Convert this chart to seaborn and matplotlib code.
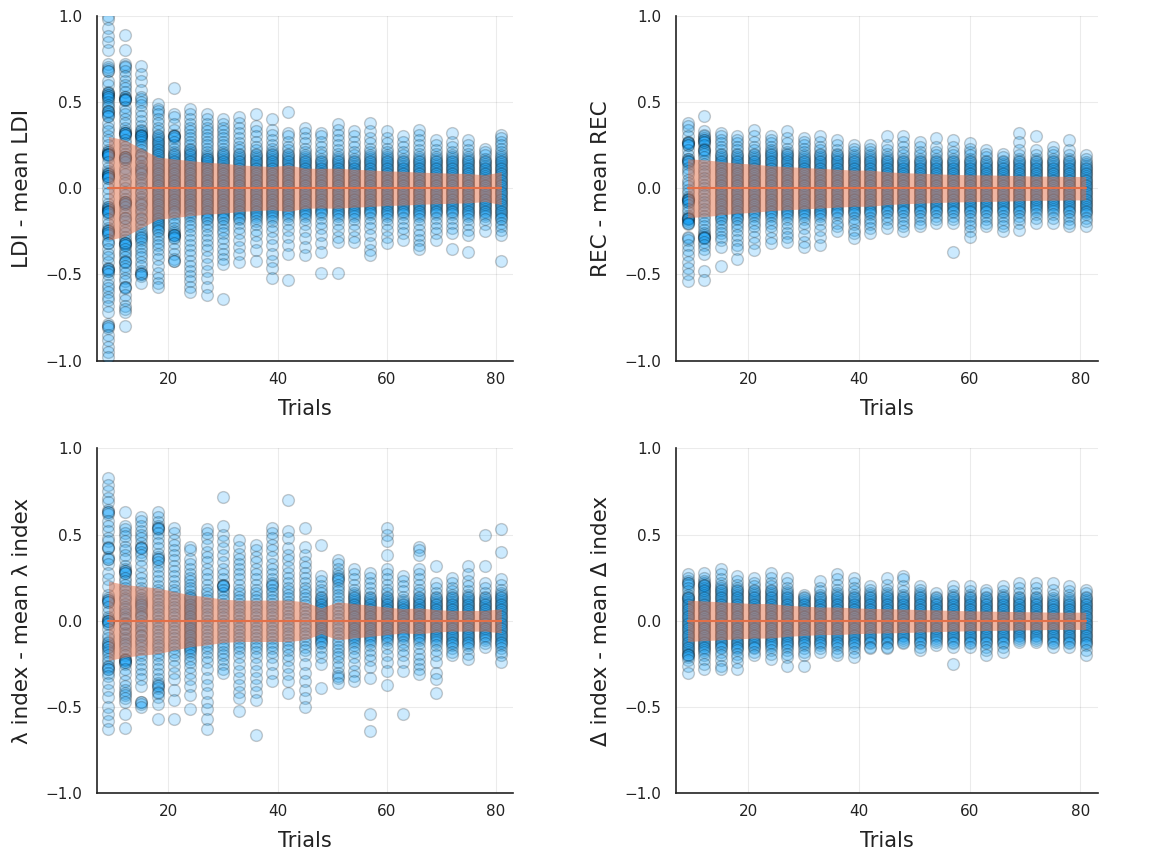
import numpy as np
import pandas as pd
import matplotlib
matplotlib.use("Agg")
import matplotlib.pyplot as plt
import seaborn as sns

# ---------------- data (values in hundredths) ----------------
trials = [9, 12, 15, 18, 21, 24, 27, 30, 33, 36, 39, 42, 45, 48, 51, 54, 57, 60, 63, 66, 69, 72, 75, 78, 81]

ldi_sd = [30, 28, 23, 18, 17, 16, 15, 14.5, 13.5, 13, 12.5, 13.5, 11.6, 11.5, 11.6, 11, 10.6, 10, 9.8, 9.3, 9, 8.7, 8.5, 7.7, 9.5]
rec_sd = [17, 16.5, 15.5, 14.5, 14, 13, 12.5, 12, 11.5, 11, 10.5, 10.5, 9.5, 9, 8.7, 8.3, 8, 7.8, 7.7, 7.5, 7.3, 7, 7, 6.8, 6.8]
lam_sd = [23, 21, 20, 19, 17, 15, 14, 12.5, 12, 12, 12, 12, 11, 7.5, 11, 10, 9, 8, 7, 7.5, 6.5, 6, 6, 6, 7]
del_sd = [12, 11.5, 11, 10.5, 10, 10, 9, 8.5, 8, 8, 7.5, 7.2, 7, 6.8, 6.5, 6.3, 6, 5.8, 5.6, 5.5, 5.3, 5.2, 5, 5, 5]

ldi_vals = [
    [100, 98, 93, 88, 85, 80, 72, 70, 69, 68, 68, 62, 60, 56, 55, 55, 54, 54, 53, 53, 52, 50, 48, 47, 45, 45, 44, 43, 42, 42, 38, 35, 33, 30, 28, 25, 22, 21, 21, 20, 20, 20, 19, 19, 18, 15, 12, 10, 9, 8, 8, 7, 7, 7, 6, 6, 3, 0, -3, -6, -9, -11, -11, -12, -12, -13, -13, -14, -14, -15, -18, -21, -23, -24, -25, -25, -26, -26, -27, -30, -32, -32, -35, -38, -40, -43, -46, -47, -47, -48, -48, -50, -53, -56, -58, -60, -63, -65, -68, -72, -79, -80, -80, -81, -85, -88, -92, -95, -98],
    [89, 80, 72, 71, 70, 68, 65, 62, 60, 58, 56, 53, 53, 52, 52, 51, 51, 47, 45, 43, 40, 38, 35, 33, 32, 32, 32, 31, 31, 28, 26, 24, 22, 20, 18, 18, 18, 17, 17, 15, 12, 10, 8, 5, 3, 0, -2, -4, -6, -8, -8, -8, -9, -9, -11, -13, -15, -17, -17, -19, -22, -24, -26, -28, -30, -32, -32, -32, -33, -33, -35, -37, -38, -40, -42, -43, -43, -45, -47, -49, -52, -54, -57, -57, -58, -62, -65, -68, -70, -72, -80],
    [71, 66, 62, 57, 53, 52, 50, 48, 45, 42, 39, 36, 34, 33, 32, 31, 31, 30, 30, 29, 28, 27, 25, 24, 22, 20, 19, 18, 16, 15, 13, 12, 11, 10, 9, 8, 6, 5, 3, 2, 0, -2, -3, -5, -6, -8, -9, -10, -12, -13, -15, -17, -18, -20, -22, -24, -26, -27, -28, -29, -30, -32, -34, -36, -38, -40, -43, -45, -48, -49, -50, -50, -51, -55],
    [49, 46, 45, 43, 40, 38, 35, 33, 31, 30, 29, 28, 27, 26, 25, 24, 23, 22, 21, 20, 19, 18, 17, 16, 15, 14, 13, 12, 11, 10, 9, 8, 7, 6, 5, 4, 3, 2, 1, 0, -1, -2, -3, -4, -5, -6, -7, -8, -9, -10, -11, -12, -13, -14, -15, -16, -17, -18, -19, -20, -21, -22, -23, -24, -25, -27, -29, -31, -33, -35, -38, -41, -45, -49, -52, -55, -57],
    [58, 43, 41, 37, 34, 31, 30, 30, 30, 29, 27, 25, 23, 21, 20, 19, 18, 17, 16, 15, 14, 13, 12, 11, 10, 9, 8, 7, 6, 5, 4, 3, 2, 1, 0, -1, -2, -3, -4, -5, -6, -7, -8, -9, -10, -11, -12, -13, -14, -15, -17, -19, -21, -23, -25, -26, -27, -27, -27, -28, -29, -32, -35, -38, -41, -42, -42],
    [46, 43, 40, 37, 35, 33, 31, 29, 27, 25, 23, 22, 21, 20, 19, 18, 17, 16, 15, 14, 13, 12, 11, 10, 9, 8, 7, 6, 5, 4, 3, 2, 1, 0, -1, -2, -3, -4, -5, -6, -7, -8, -9, -10, -11, -12, -13, -14, -15, -16, -18, -20, -22, -24, -27, -30, -33, -36, -39, -42, -45, -48, -51, -54, -57, -60],
    [43, 40, 37, 35, 33, 31, 29, 27, 25, 23, 21, 19, 18, 17, 17, 16, 15, 14, 13, 12, 11, 10, 9, 8, 7, 6, 5, 4, 3, 2, 1, 0, -1, -2, -3, -4, -5, -6, -7, -8, -9, -10, -11, -12, -13, -14, -15, -16, -17, -18, -20, -22, -24, -27, -30, -33, -36, -40, -44, -48, -52, -57, -62],
    [40, 37, 35, 33, 31, 29, 27, 25, 23, 21, 20, 19, 18, 17, 16, 15, 14, 13, 12, 11, 10, 9, 8, 7, 6, 5, 4, 3, 2, 1, 0, -1, -2, -3, -4, -5, -6, -7, -8, -9, -10, -11, -12, -13, -14, -15, -16, -17, -18, -20, -22, -24, -26, -29, -32, -35, -38, -41, -44, -64],
    [41, 38, 35, 32, 29, 26, 24, 22, 20, 19, 18, 17, 16, 15, 14, 13, 12, 11, 10, 9, 8, 7, 6, 5, 4, 3, 2, 1, 0, -1, -2, -3, -4, -5, -6, -7, -8, -9, -10, -11, -12, -13, -14, -15, -16, -17, -18, -20, -23, -26, -30, -34, -38, -43],
    [43, 36, 33, 30, 27, 24, 22, 20, 19, 18, 17, 16, 15, 14, 13, 12, 11, 10, 9, 8, 7, 6, 5, 4, 3, 2, 1, 0, -1, -2, -3, -4, -5, -6, -7, -8, -9, -10, -11, -12, -13, -14, -15, -16, -17, -19, -21, -24, -27, -31, -36, -42],
    [40, 34, 31, 28, 25, 23, 21, 20, 19, 18, 17, 16, 15, 14, 13, 12, 11, 10, 9, 8, 7, 6, 5, 4, 3, 2, 1, 0, -1, -2, -3, -4, -5, -6, -7, -8, -9, -10, -11, -12, -13, -14, -15, -16, -17, -19, -22, -25, -29, -33, -38, -42, -46, -52],
    [44, 32, 30, 27, 24, 22, 20, 19, 18, 17, 16, 15, 14, 13, 12, 11, 10, 9, 8, 7, 6, 5, 4, 3, 2, 1, 0, -1, -2, -3, -4, -5, -6, -7, -8, -9, -10, -11, -12, -13, -14, -15, -16, -18, -21, -24, -28, -33, -38, -53],
    [35, 32, 29, 26, 23, 21, 19, 18, 17, 16, 15, 14, 13, 12, 11, 10, 9, 8, 7, 6, 5, 4, 3, 2, 1, 0, -1, -2, -3, -4, -5, -6, -7, -8, -9, -10, -11, -12, -13, -14, -15, -16, -18, -21, -25, -29, -34, -39],
    [32, 30, 27, 24, 21, 19, 17, 16, 15, 14, 13, 12, 11, 10, 9, 8, 7, 6, 5, 4, 3, 2, 1, 0, -1, -2, -3, -4, -5, -6, -7, -8, -9, -10, -11, -12, -13, -14, -15, -17, -20, -23, -27, -32, -37, -49],
    [37, 34, 31, 28, 25, 22, 20, 18, 17, 16, 15, 14, 13, 12, 11, 10, 9, 8, 7, 6, 5, 4, 3, 2, 1, 0, -1, -2, -3, -4, -5, -6, -7, -8, -9, -10, -11, -12, -13, -14, -15, -16, -18, -21, -24, -28, -31, -49],
    [33, 30, 27, 24, 21, 19, 17, 16, 15, 14, 13, 12, 11, 10, 9, 8, 7, 6, 5, 4, 3, 2, 1, 0, -1, -2, -3, -4, -5, -6, -7, -8, -9, -10, -11, -12, -13, -14, -15, -16, -18, -21, -24, -28, -31],
    [38, 33, 29, 26, 23, 21, 19, 18, 17, 16, 15, 14, 13, 12, 11, 10, 9, 8, 7, 6, 5, 4, 3, 2, 1, 0, -1, -2, -3, -4, -5, -6, -7, -8, -9, -10, -11, -12, -13, -14, -15, -17, -20, -23, -27, -32, -36, -39],
    [33, 29, 26, 23, 21, 19, 18, 17, 16, 15, 14, 13, 12, 11, 10, 9, 8, 7, 6, 5, 4, 3, 2, 1, 0, -1, -2, -3, -4, -5, -6, -7, -8, -9, -10, -11, -12, -13, -14, -15, -16, -18, -21, -24, -28, -32],
    [30, 27, 24, 21, 19, 17, 16, 15, 14, 13, 12, 11, 10, 9, 8, 7, 6, 5, 4, 3, 2, 1, 0, -1, -2, -3, -4, -5, -6, -7, -8, -9, -10, -11, -12, -13, -14, -15, -17, -20, -23, -26, -30],
    [34, 31, 28, 25, 22, 20, 18, 17, 16, 15, 14, 13, 12, 11, 10, 9, 8, 7, 6, 5, 4, 3, 2, 1, 0, -1, -2, -3, -4, -5, -6, -7, -8, -9, -10, -11, -12, -13, -14, -15, -16, -18, -21, -24, -27, -30, -33, -35],
    [28, 25, 22, 20, 18, 17, 16, 15, 14, 13, 12, 11, 10, 9, 8, 7, 6, 5, 4, 3, 2, 1, 0, -1, -2, -3, -4, -5, -6, -7, -8, -9, -10, -11, -12, -13, -14, -15, -17, -20, -23, -26, -30],
    [32, 27, 24, 21, 19, 18, 17, 16, 15, 14, 13, 12, 11, 10, 9, 8, 7, 6, 5, 4, 3, 2, 1, 0, -1, -2, -3, -4, -5, -6, -7, -8, -9, -10, -11, -12, -13, -14, -15, -17, -20, -23, -26, -35],
    [28, 25, 22, 20, 18, 17, 16, 15, 14, 13, 12, 11, 10, 9, 8, 7, 6, 5, 4, 3, 2, 1, 0, -1, -2, -3, -4, -5, -6, -7, -8, -9, -10, -11, -12, -13, -14, -15, -16, -18, -21, -24, -27, -37],
    [23, 21, 19, 17, 16, 15, 14, 13, 12, 11, 10, 9, 8, 7, 6, 5, 4, 3, 2, 1, 0, -1, -2, -3, -4, -5, -6, -7, -8, -9, -10, -11, -12, -13, -14, -15, -16, -18, -21, -25],
    [31, 29, 27, 25, 23, 21, 19, 18, 17, 16, 15, 14, 13, 12, 11, 10, 9, 8, 7, 6, 5, 4, 3, 2, 1, 0, -1, -2, -3, -4, -5, -6, -7, -8, -9, -10, -11, -12, -13, -14, -15, -16, -17, -18, -20, -22, -24, -27, -42],
]

rec_vals = [
    [38, 36, 34, 30, 27, 27, 26, 26, 25, 25, 22, 19, 17, 17, 16, 16, 15, 14, 12, 10, 8, 5, 3, 1, -1, -3, -5, -6, -6, -7, -7, -8, -8, -10, -12, -14, -16, -17, -17, -18, -18, -19, -20, -20, -21, -28, -29, -30, -33, -36, -39, -43, -46, -50, -54],
    [42, 33, 31, 30, 29, 28, 28, 27, 27, 25, 23, 22, 22, 21, 20, 18, 16, 14, 12, 10, 8, 6, 4, 2, 0, -2, -4, -6, -8, -10, -12, -14, -16, -18, -20, -22, -24, -26, -27, -28, -28, -29, -29, -31, -33, -35, -38, -48, -53],
    [32, 30, 28, 26, 24, 22, 20, 19, 18, 17, 16, 15, 14, 13, 12, 11, 10, 9, 8, 7, 6, 5, 4, 3, 2, 1, 0, -1, -2, -3, -4, -5, -6, -7, -8, -9, -10, -11, -12, -13, -14, -15, -16, -17, -18, -20, -22, -24, -26, -28, -30, -34, -45],
    [30, 28, 26, 24, 22, 20, 19, 18, 17, 16, 15, 14, 13, 12, 11, 10, 9, 8, 7, 6, 5, 4, 3, 2, 1, 0, -1, -2, -3, -4, -5, -6, -7, -8, -9, -10, -11, -12, -13, -14, -15, -16, -17, -18, -20, -22, -24, -27, -30, -33, -35, -41],
    [34, 30, 27, 24, 22, 20, 19, 18, 17, 16, 15, 14, 13, 12, 11, 10, 9, 8, 7, 6, 5, 4, 3, 2, 1, 0, -1, -2, -3, -4, -5, -6, -7, -8, -9, -10, -11, -12, -13, -14, -15, -16, -18, -20, -22, -25, -28, -32, -36],
    [30, 28, 26, 24, 22, 21, 20, 19, 18, 17, 16, 15, 14, 13, 12, 11, 10, 9, 8, 7, 6, 5, 4, 3, 2, 1, 0, -1, -2, -3, -4, -5, -6, -7, -8, -9, -10, -11, -12, -13, -14, -15, -16, -18, -20, -22, -25, -29, -32],
    [33, 29, 26, 23, 21, 20, 19, 18, 17, 16, 15, 14, 13, 12, 11, 10, 9, 8, 7, 6, 5, 4, 3, 2, 1, 0, -1, -2, -3, -4, -5, -6, -7, -8, -9, -10, -11, -12, -13, -14, -15, -16, -18, -20, -23, -26, -28, -31],
    [29, 27, 25, 23, 21, 19, 18, 17, 16, 15, 14, 13, 12, 11, 10, 9, 8, 7, 6, 5, 4, 3, 2, 1, 0, -1, -2, -3, -4, -5, -6, -7, -8, -9, -10, -11, -12, -13, -14, -15, -16, -18, -20, -23, -27, -31, -34],
    [30, 27, 24, 22, 20, 19, 18, 17, 16, 15, 14, 13, 12, 11, 10, 9, 8, 7, 6, 5, 4, 3, 2, 1, 0, -1, -2, -3, -4, -5, -6, -7, -8, -9, -10, -11, -12, -13, -14, -15, -16, -18, -21, -24, -28, -33],
    [28, 25, 22, 20, 19, 18, 17, 16, 15, 14, 13, 12, 11, 10, 9, 8, 7, 6, 5, 4, 3, 2, 1, 0, -1, -2, -3, -4, -5, -6, -7, -8, -9, -10, -11, -12, -13, -14, -15, -17, -20, -22, -25],
    [25, 23, 21, 19, 18, 17, 16, 15, 14, 13, 12, 11, 10, 9, 8, 7, 6, 5, 4, 3, 2, 1, 0, -1, -2, -3, -4, -5, -6, -7, -8, -9, -10, -11, -12, -13, -14, -15, -17, -19, -21, -24, -26, -29],
    [25, 23, 21, 19, 18, 17, 16, 15, 14, 13, 12, 11, 10, 9, 8, 7, 6, 5, 4, 3, 2, 1, 0, -1, -2, -3, -4, -5, -6, -7, -8, -9, -10, -11, -12, -13, -14, -15, -17, -19, -21, -23, -26],
    [30, 25, 22, 20, 18, 17, 16, 15, 14, 13, 12, 11, 10, 9, 8, 7, 6, 5, 4, 3, 2, 1, 0, -1, -2, -3, -4, -5, -6, -7, -8, -9, -10, -11, -12, -13, -14, -16, -18, -20, -23],
    [30, 27, 24, 21, 19, 17, 16, 15, 14, 13, 12, 11, 10, 9, 8, 7, 6, 5, 4, 3, 2, 1, 0, -1, -2, -3, -4, -5, -6, -7, -8, -9, -10, -11, -12, -13, -14, -16, -18, -20, -22, -25],
    [27, 24, 21, 19, 17, 16, 15, 14, 13, 12, 11, 10, 9, 8, 7, 6, 5, 4, 3, 2, 1, 0, -1, -2, -3, -4, -5, -6, -7, -8, -9, -10, -11, -12, -13, -14, -16, -18, -20, -22],
    [29, 24, 21, 19, 17, 16, 15, 14, 13, 12, 11, 10, 9, 8, 7, 6, 5, 4, 3, 2, 1, 0, -1, -2, -3, -4, -5, -6, -7, -8, -9, -10, -11, -12, -13, -14, -16, -18, -20],
    [28, 24, 21, 19, 17, 16, 15, 14, 13, 12, 11, 10, 9, 8, 7, 6, 5, 4, 3, 2, 1, 0, -1, -2, -3, -4, -5, -6, -7, -8, -9, -10, -11, -12, -13, -14, -16, -18, -20, -37],
    [26, 23, 21, 19, 17, 16, 15, 14, 13, 12, 11, 10, 9, 8, 7, 6, 5, 4, 3, 2, 1, 0, -1, -2, -3, -4, -5, -6, -7, -8, -9, -10, -11, -12, -13, -14, -16, -18, -20, -22, -25, -28],
    [22, 20, 18, 16, 15, 14, 13, 12, 11, 10, 9, 8, 7, 6, 5, 4, 3, 2, 1, 0, -1, -2, -3, -4, -5, -6, -7, -8, -9, -10, -11, -12, -13, -14, -16, -18, -20, -22],
    [20, 18, 16, 15, 14, 13, 12, 11, 10, 9, 8, 7, 6, 5, 4, 3, 2, 1, 0, -1, -2, -3, -4, -5, -6, -7, -8, -9, -10, -11, -12, -13, -14, -16, -18, -20, -22, -25],
    [32, 27, 22, 19, 17, 16, 15, 14, 13, 12, 11, 10, 9, 8, 7, 6, 5, 4, 3, 2, 1, 0, -1, -2, -3, -4, -5, -6, -7, -8, -9, -10, -11, -12, -13, -14, -16, -18, -20, -24],
    [30, 22, 19, 17, 16, 15, 14, 13, 12, 11, 10, 9, 8, 7, 6, 5, 4, 3, 2, 1, 0, -1, -2, -3, -4, -5, -6, -7, -8, -9, -10, -11, -12, -13, -15, -17, -20],
    [24, 21, 19, 17, 16, 15, 14, 13, 12, 11, 10, 9, 8, 7, 6, 5, 4, 3, 2, 1, 0, -1, -2, -3, -4, -5, -6, -7, -8, -9, -10, -11, -12, -13, -15, -17, -20],
    [28, 22, 19, 17, 16, 15, 14, 13, 12, 11, 10, 9, 8, 7, 6, 5, 4, 3, 2, 1, 0, -1, -2, -3, -4, -5, -6, -7, -8, -9, -10, -11, -12, -13, -14, -16, -18, -20, -22],
    [19, 17, 15, 14, 13, 12, 11, 10, 9, 8, 7, 6, 5, 4, 3, 2, 1, 0, -1, -2, -3, -4, -5, -6, -7, -8, -9, -10, -11, -12, -13, -14, -15, -17, -19, -22],
]

lam_vals = [
    [83, 79, 75, 71, 69, 64, 63, 63, 62, 58, 55, 52, 48, 46, 43, 42, 42, 37, 36, 36, 33, 28, 24, 20, 15, 13, 12, 12, 11, 11, 8, 5, 2, 1, 0, 0, 0, -1, -2, -5, -8, -10, -12, -13, -14, -15, -15, -17, -18, -20, -22, -24, -26, -27, -28, -28, -30, -32, -36, -40, -44, -50, -54, -58, -63],
    [63, 55, 53, 51, 49, 46, 43, 41, 38, 36, 32, 30, 29, 29, 28, 28, 25, 23, 21, 19, 17, 15, 13, 12, 10, 8, 7, 5, 4, 2, 1, -1, -2, -4, -5, -7, -8, -10, -11, -13, -14, -16, -18, -20, -22, -23, -23, -24, -24, -25, -28, -31, -35, -38, -40, -42, -43, -45, -47, -54, -62],
    [60, 58, 55, 52, 50, 48, 45, 43, 42, 42, 40, 38, 35, 32, 28, 25, 22, 19, 17, 15, 13, 12, 11, 10, 9, 8, 7, 5, 4, 3, 2, 0, -2, -3, -5, -6, -8, -9, -11, -12, -14, -16, -18, -20, -22, -25, -28, -31, -34, -38, -47, -47, -48, -50],
    [63, 60, 57, 55, 54, 54, 53, 51, 48, 45, 42, 39, 37, 36, 36, 34, 32, 29, 26, 23, 20, 18, 16, 14, 12, 10, 8, 6, 4, 2, 0, -2, -4, -6, -8, -10, -12, -14, -16, -18, -20, -22, -25, -28, -31, -34, -36, -37, -38, -39, -41, -42, -44, -48, -57],
    [54, 51, 47, 44, 41, 38, 35, 32, 29, 26, 23, 20, 18, 16, 14, 12, 10, 8, 6, 4, 2, 0, -2, -4, -6, -8, -10, -12, -14, -16, -18, -20, -23, -26, -30, -34, -40, -46, -57],
    [43, 41, 36, 33, 30, 27, 25, 23, 21, 19, 17, 15, 14, 13, 12, 11, 10, 9, 8, 7, 6, 5, 4, 3, 2, 1, 0, -1, -2, -3, -4, -5, -6, -7, -8, -9, -10, -11, -12, -13, -14, -15, -16, -17, -18, -20, -22, -24, -27, -30, -34, -38, -43, -51],
    [53, 51, 48, 44, 40, 37, 34, 30, 27, 24, 21, 18, 16, 14, 12, 10, 8, 6, 4, 2, 0, -2, -4, -6, -8, -10, -12, -14, -16, -18, -21, -24, -28, -33, -37, -42, -47, -51, -57, -63],
    [72, 55, 50, 46, 42, 38, 34, 30, 27, 24, 21, 21, 20, 20, 18, 16, 14, 12, 10, 8, 6, 4, 2, 0, -2, -4, -6, -8, -10, -12, -14, -16, -18, -20, -22, -25, -28, -30],
    [47, 43, 39, 36, 33, 30, 27, 24, 21, 18, 16, 14, 12, 10, 8, 6, 4, 2, 0, -2, -4, -6, -8, -10, -12, -14, -16, -18, -21, -25, -29, -33, -37, -41, -45, -52],
    [44, 41, 37, 34, 30, 27, 24, 21, 18, 16, 14, 12, 10, 8, 6, 4, 2, 0, -2, -4, -6, -8, -10, -12, -14, -16, -18, -21, -25, -29, -33, -37, -41, -46, -66],
    [54, 51, 48, 44, 41, 37, 33, 30, 27, 24, 22, 21, 20, 18, 16, 14, 12, 10, 8, 6, 4, 2, 0, -2, -4, -6, -8, -10, -12, -14, -16, -18, -21, -25, -30, -35],
    [70, 52, 48, 42, 38, 35, 31, 28, 25, 22, 19, 17, 15, 13, 11, 9, 7, 5, 3, 1, -1, -3, -5, -7, -9, -11, -13, -15, -17, -20, -23, -27, -31, -35, -42],
    [54, 43, 38, 34, 31, 28, 25, 22, 19, 17, 15, 13, 11, 9, 7, 5, 3, 1, -1, -3, -5, -7, -9, -11, -13, -15, -17, -20, -25, -30, -35, -40, -45, -50],
    [44, 26, 23, 20, 18, 16, 14, 13, 12, 11, 10, 9, 8, 7, 6, 5, 4, 3, 2, 1, 0, -1, -2, -3, -4, -5, -6, -7, -8, -9, -10, -11, -12, -13, -15, -18, -21, -25, -39],
    [35, 33, 30, 28, 26, 25, 24, 23, 21, 19, 17, 15, 13, 11, 9, 7, 5, 3, 1, -1, -3, -5, -7, -9, -11, -13, -15, -17, -19, -21, -24, -27, -30, -32, -33, -36],
    [30, 27, 24, 21, 18, 16, 15, 14, 13, 12, 11, 10, 9, 8, 7, 6, 5, 4, 3, 2, 1, 0, -1, -2, -3, -4, -5, -6, -7, -8, -9, -10, -11, -12, -14, -16, -18, -21, -25, -29, -32, -35],
    [28, 25, 22, 19, 16, 14, 13, 12, 11, 10, 9, 8, 7, 6, 5, 4, 3, 2, 1, 0, -1, -2, -3, -4, -5, -6, -7, -8, -9, -10, -11, -12, -14, -17, -20, -23, -27, -33, -54, -64],
    [54, 50, 46, 38, 30, 27, 24, 21, 18, 16, 14, 13, 12, 11, 10, 9, 8, 7, 6, 5, 4, 3, 2, 1, 0, -1, -2, -3, -4, -5, -6, -7, -8, -9, -10, -11, -13, -16, -20, -24, -29, -37],
    [26, 23, 20, 17, 14, 12, 11, 10, 9, 8, 7, 6, 5, 4, 3, 2, 1, 0, -1, -2, -3, -4, -5, -6, -7, -8, -9, -10, -12, -14, -17, -20, -24, -29, -54],
    [43, 41, 38, 30, 27, 24, 21, 18, 16, 14, 13, 12, 11, 10, 9, 8, 7, 6, 5, 4, 3, 2, 1, 0, -1, -2, -3, -4, -5, -6, -7, -8, -9, -10, -11, -13, -16, -19, -22, -25, -28, -31],
    [32, 22, 19, 16, 14, 13, 12, 11, 10, 9, 8, 7, 6, 5, 4, 3, 2, 1, 0, -1, -2, -3, -4, -5, -6, -7, -8, -9, -10, -11, -12, -14, -17, -20, -24, -30, -34, -42],
    [25, 22, 19, 17, 15, 14, 13, 12, 11, 10, 9, 8, 7, 6, 5, 4, 3, 2, 1, 0, -1, -2, -3, -4, -5, -6, -7, -8, -9, -10, -11, -12, -13, -14, -16, -18, -20],
    [32, 27, 23, 20, 17, 15, 14, 13, 12, 11, 10, 9, 8, 7, 6, 5, 4, 3, 2, 1, 0, -1, -2, -3, -4, -5, -6, -7, -8, -9, -10, -11, -12, -13, -14, -16, -19, -22],
    [50, 32, 22, 19, 16, 14, 13, 12, 11, 10, 9, 8, 7, 6, 5, 4, 3, 2, 1, 0, -1, -2, -3, -4, -5, -6, -7, -8, -9, -10, -11, -13, -15],
    [53, 40, 24, 21, 18, 16, 15, 14, 13, 12, 11, 10, 9, 8, 7, 6, 5, 4, 3, 2, 1, 0, -1, -2, -3, -4, -5, -6, -7, -8, -9, -10, -11, -12, -13, -14, -16, -18, -20, -24],
]

del_vals = [
    [27, 25, 23, 22, 22, 21, 19, 17, 15, 14, 13, 13, 12, 11, 10, 9, 8, 7, 6, 5, 4, 3, 2, 1, 0, -1, -2, -3, -4, -5, -6, -7, -8, -9, -10, -11, -12, -13, -14, -15, -16, -17, -18, -19, -20, -20, -21, -23, -26, -30],
    [28, 25, 23, 22, 21, 21, 20, 19, 18, 17, 16, 15, 14, 13, 12, 11, 10, 9, 8, 7, 6, 5, 4, 3, 2, 1, 0, -1, -2, -3, -4, -5, -6, -7, -8, -9, -10, -11, -12, -13, -14, -15, -16, -17, -18, -20, -22, -25, -28],
    [30, 27, 24, 22, 20, 19, 18, 17, 16, 15, 14, 13, 12, 11, 10, 9, 8, 7, 6, 5, 4, 3, 2, 1, 0, -1, -2, -3, -4, -5, -6, -7, -8, -9, -10, -11, -12, -13, -14, -15, -16, -18, -20, -23, -26, -28],
    [26, 23, 21, 19, 18, 17, 16, 15, 14, 13, 12, 11, 10, 9, 8, 7, 6, 5, 4, 3, 2, 1, 0, -1, -2, -3, -4, -5, -6, -7, -8, -9, -10, -11, -12, -13, -14, -15, -16, -17, -19, -21, -24, -28],
    [25, 22, 20, 18, 17, 16, 15, 14, 13, 12, 11, 10, 9, 8, 7, 6, 5, 4, 3, 2, 1, 0, -1, -2, -3, -4, -5, -6, -7, -8, -9, -10, -11, -12, -13, -14, -15, -16, -18, -20],
    [28, 25, 22, 20, 18, 17, 16, 15, 14, 13, 12, 11, 10, 9, 8, 7, 6, 5, 4, 3, 2, 1, 0, -1, -2, -3, -4, -5, -6, -7, -8, -9, -10, -11, -12, -13, -14, -15, -17, -19, -22],
    [25, 22, 19, 17, 16, 15, 14, 13, 12, 11, 10, 9, 8, 7, 6, 5, 4, 3, 2, 1, 0, -1, -2, -3, -4, -5, -6, -7, -8, -9, -10, -11, -12, -13, -14, -15, -17, -19, -21, -26],
    [15, 14, 13, 12, 11, 10, 9, 8, 7, 6, 5, 4, 3, 2, 1, 0, -1, -2, -3, -4, -5, -6, -7, -8, -9, -10, -11, -12, -13, -14, -16, -18, -20, -26],
    [23, 19, 17, 15, 14, 13, 12, 11, 10, 9, 8, 7, 6, 5, 4, 3, 2, 1, 0, -1, -2, -3, -4, -5, -6, -7, -8, -9, -10, -11, -12, -13, -14, -16, -18],
    [27, 24, 21, 18, 16, 15, 14, 13, 12, 11, 10, 9, 8, 7, 6, 5, 4, 3, 2, 1, 0, -1, -2, -3, -4, -5, -6, -7, -8, -9, -10, -11, -12, -13, -14, -16, -18, -20],
    [25, 22, 19, 17, 15, 14, 13, 12, 11, 10, 9, 8, 7, 6, 5, 4, 3, 2, 1, 0, -1, -2, -3, -4, -5, -6, -7, -8, -9, -10, -11, -12, -13, -14, -16, -18, -21],
    [20, 18, 16, 15, 14, 13, 12, 11, 10, 9, 8, 7, 6, 5, 4, 3, 2, 1, 0, -1, -2, -3, -4, -5, -6, -7, -8, -9, -10, -11, -12, -13, -15, -16],
    [25, 21, 18, 16, 15, 14, 13, 12, 11, 10, 9, 8, 7, 6, 5, 4, 3, 2, 1, 0, -1, -2, -3, -4, -5, -6, -7, -8, -9, -10, -11, -12, -13, -15, -16],
    [26, 24, 20, 17, 15, 14, 13, 12, 11, 10, 9, 8, 7, 6, 5, 4, 3, 2, 1, 0, -1, -2, -3, -4, -5, -6, -7, -8, -9, -10, -11, -12, -13],
    [20, 18, 16, 15, 14, 13, 12, 11, 10, 9, 8, 7, 6, 5, 4, 3, 2, 1, 0, -1, -2, -3, -4, -5, -6, -7, -8, -9, -10, -11, -12, -13, -15, -17],
    [16, 14, 13, 12, 11, 10, 9, 8, 7, 6, 5, 4, 3, 2, 1, 0, -1, -2, -3, -4, -5, -6, -7, -8, -9, -10, -11, -12, -14],
    [20, 17, 15, 14, 13, 12, 11, 10, 9, 8, 7, 6, 5, 4, 3, 2, 1, 0, -1, -2, -3, -4, -5, -6, -7, -8, -9, -10, -11, -12, -13, -15, -25],
    [20, 17, 15, 14, 13, 12, 11, 10, 9, 8, 7, 6, 5, 4, 3, 2, 1, 0, -1, -2, -3, -4, -5, -6, -7, -8, -9, -10, -11, -12, -13, -15],
    [18, 16, 14, 13, 12, 11, 10, 9, 8, 7, 6, 5, 4, 3, 2, 1, 0, -1, -2, -3, -4, -5, -6, -7, -8, -9, -10, -11, -12, -13, -15, -17, -20],
    [20, 17, 15, 14, 13, 12, 11, 10, 9, 8, 7, 6, 5, 4, 3, 2, 1, 0, -1, -2, -3, -4, -5, -6, -7, -8, -9, -10, -11, -12, -13, -15, -18],
    [22, 19, 16, 14, 13, 12, 11, 10, 9, 8, 7, 6, 5, 4, 3, 2, 1, 0, -1, -2, -3, -4, -5, -6, -7, -8, -9, -10, -11, -12],
    [22, 19, 16, 14, 13, 12, 11, 10, 9, 8, 7, 6, 5, 4, 3, 2, 1, 0, -1, -2, -3, -4, -5, -6, -7, -8, -9, -10, -11, -12],
    [22, 18, 15, 13, 12, 11, 10, 9, 8, 7, 6, 5, 4, 3, 2, 1, 0, -1, -2, -3, -4, -5, -6, -7, -8, -9, -10, -11, -12, -13, -15],
    [20, 17, 15, 13, 12, 11, 10, 9, 8, 7, 6, 5, 4, 3, 2, 1, 0, -1, -2, -3, -4, -5, -6, -7, -8, -9, -10, -11, -12, -13, -15],
    [18, 16, 14, 13, 12, 11, 10, 9, 8, 7, 6, 5, 4, 3, 2, 1, 0, -1, -2, -3, -4, -5, -6, -7, -8, -9, -10, -11, -12, -13, -14, -17, -20],
]

y_labels = ["LDI - mean LDI", "REC - mean REC", "λ index - mean λ index", "Δ index - mean Δ index"]
x_label = "Trials"
y_ticks = [-1.0, -0.5, 0.0, 0.5, 1.0]
x_ticks = [20, 40, 60, 80]

# ---------------- style ----------------
sns.set_theme(style="white")
plt.rcParams["font.family"] = ["DejaVu Sans"]

W, H = 1151, 857
fig = plt.figure(figsize=(W / 100, H / 100), dpi=100)

# axes rectangles in pixels: left, top, right, bottom
rects = [
    (96.7, 15.7, 513.0, 360.7),
    (675.7, 15.7, 1097.7, 360.7),
    (96.7, 448.3, 513.0, 793.3),
    (675.7, 448.3, 1097.7, 793.3),
]

panels = [(ldi_vals, ldi_sd), (rec_vals, rec_sd), (lam_vals, lam_sd), (del_vals, del_sd)]

PT_BLUE = "#009AFA"
RIB = "#E36F47"

for (vals, sd), ylab, (l, t, r, b) in zip(panels, y_labels, rects):
    ax = fig.add_axes([l / W, 1 - b / H, (r - l) / W, (b - t) / H])
    rows_x, rows_y = [], []
    for tr, vs in zip(trials, vals):
        for v in vs:
            rows_x.append(tr)
            rows_y.append(v / 100.0)
    df = pd.DataFrame({"Trials": rows_x, "value": rows_y})
    sns.scatterplot(data=df, x="Trials", y="value", ax=ax, s=72, color=PT_BLUE,
                    edgecolor="black", linewidth=1.0, alpha=0.2, zorder=3, legend=False)
    sd_arr = np.array(sd) / 100.0
    zeros = np.zeros(len(trials))
    ax.fill_between(trials, zeros - sd_arr, zeros + sd_arr, color=RIB, alpha=0.5,
                    linewidth=0, zorder=4)
    sns.lineplot(x=trials, y=zeros, ax=ax, color=RIB, linewidth=1.5, zorder=5)

    ax.set_xlim(6.84, 83.16)
    ax.set_ylim(-1.0, 1.0)
    ax.set_xticks(x_ticks)
    ax.set_yticks(y_ticks)
    ax.set_yticklabels([f"{v:.1f}".replace("-", "\u2212") for v in y_ticks])
    ax.grid(True, color="black", alpha=0.08, linewidth=0.8)
    ax.set_axisbelow(True)
    for side in ["top", "right"]:
        ax.spines[side].set_visible(False)
    for side in ["left", "bottom"]:
        ax.spines[side].set_color("#222222")
        ax.spines[side].set_linewidth(1.2)
    ax.tick_params(axis="both", direction="in", length=4, width=1.0, color="#222222",
                   labelsize=11, labelcolor="#222222")
    ax.tick_params(axis="y", pad=10.5)
    ax.tick_params(axis="x", pad=8)
    ax.set_xlabel(x_label, fontsize=15, color="#222222")
    ax.set_ylabel(ylab, fontsize=15.5, color="#222222")
    wpx = r - l
    hpx = b - t
    ax.yaxis.set_label_coords(-65 / wpx, 0.5)
    ax.xaxis.set_label_coords(0.5, -38 / hpx)

fig.savefig("out.png", dpi=100, facecolor="white")
